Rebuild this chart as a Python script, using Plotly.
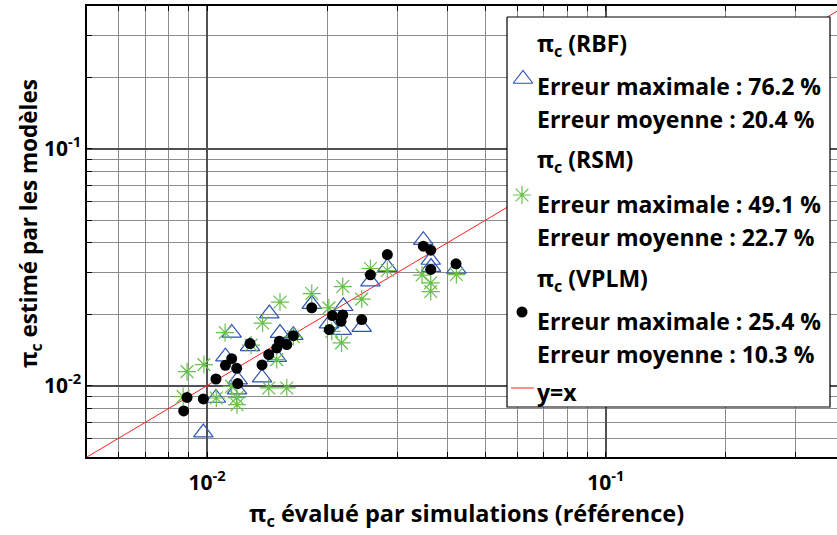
import plotly.graph_objects as go
import numpy as np

# ---------------- data ----------------
# VPLM model (black dots)
sim_vplm = [0.03487, 0.03640, 0.02833, 0.04212, 0.03640, 0.02569, 0.01831, 0.02062, 0.02190,
            0.02168, 0.02443, 0.02026, 0.01646, 0.01518, 0.01585, 0.01496, 0.01282, 0.01428,
            0.01153, 0.01112, 0.01187, 0.01374, 0.01053, 0.01194, 0.00891, 0.00979, 0.00874]
est_vplm = [0.03878, 0.03729, 0.03576, 0.03267, 0.03092, 0.02935, 0.02130, 0.01975, 0.01989,
            0.01870, 0.01900, 0.01724, 0.01626, 0.01539, 0.01490, 0.01443, 0.01505, 0.01352,
            0.01300, 0.01218, 0.01183, 0.01223, 0.01067, 0.01020, 0.00892, 0.00879, 0.00782]

# RBF model (blue open triangles)
sim_rbf = [0.03487, 0.03640, 0.03646, 0.04220, 0.02833, 0.02569, 0.01831, 0.02197, 0.02023,
           0.02177, 0.02443, 0.01646, 0.01524, 0.01433, 0.01282, 0.01496, 0.01153, 0.01112,
           0.01194, 0.01189, 0.01374, 0.01053, 0.00979]
est_rbf = [0.04111, 0.03390, 0.03166, 0.03107, 0.03161, 0.02750, 0.02210, 0.02163, 0.01828,
           0.01716, 0.01767, 0.01634, 0.01667, 0.02014, 0.01466, 0.01319, 0.01670, 0.01326,
           0.01060, 0.00962, 0.01081, 0.00887, 0.00634]

# RSM model (green asterisks)
sim_rsm = [0.02569, 0.02833, 0.03462, 0.03640, 0.03640, 0.04220, 0.02190, 0.02443, 0.01831,
           0.02021, 0.01524, 0.01378, 0.01110, 0.01290, 0.01496, 0.02055, 0.02174, 0.01153,
           0.01187, 0.01189, 0.01055, 0.00982, 0.00891, 0.00871, 0.01428, 0.01585, 0.01646]
est_rsm = [0.03122, 0.03061, 0.02929, 0.02716, 0.02495, 0.02944, 0.02620, 0.02319, 0.02447,
           0.02130, 0.02253, 0.01837, 0.01675, 0.01483, 0.01288, 0.01696, 0.01515, 0.00993,
           0.00890, 0.00831, 0.00887, 0.01227, 0.01146, 0.00899, 0.00978, 0.00978, 0.01611]

identity_range = [0.005, 0.5]

model_names = ["RBF", "RSM", "VPLM"]
err_max = ["76.2", "49.1", "25.4"]
err_moy = ["20.4", "22.7", "10.3"]

x_major = [0.01, 0.1]
x_minor = [0.006, 0.007, 0.008, 0.009, 0.02, 0.03, 0.04, 0.05, 0.06, 0.07, 0.08, 0.09, 0.2, 0.3, 0.4]
y_major = [0.01, 0.1]
y_minor = [0.006, 0.007, 0.008, 0.009, 0.02, 0.03, 0.04, 0.05, 0.06, 0.07, 0.08, 0.09, 0.2, 0.3]
tick_text = ["10<sup>-2</sup>", "10<sup>-1</sup>"]

x_title = "π<sub>c</sub> évalué par simulations (référence)"
y_title = "π<sub>c</sub> estimé par les modèles"

# ---------------- styling ----------------
FONT = "'Open Sans', Lato, sans-serif"
BLUE = "#2f55b4"
GREEN = "#66c04a"
W, H = 837, 535
ML, MR, MT, MB = 87, 0, 6, 78
PW, PH = W - ML - MR, H - MT - MB


def px(x):
    return (x - ML) / PW


def py(y):
    return (H - MB - y) / PH


fig = go.Figure()

fig.add_trace(go.Scatter(x=identity_range, y=identity_range, mode="lines",
                         line=dict(color="#ff2020", width=1), hoverinfo="skip", showlegend=False))
fig.add_trace(go.Scatter(x=sim_rbf, y=est_rbf, mode="markers", showlegend=False,
                         marker=dict(symbol="triangle-up-open", size=17, color=BLUE,
                                     line=dict(color=BLUE, width=1.2))))
fig.add_trace(go.Scatter(x=sim_rsm, y=est_rsm, mode="markers", showlegend=False,
                         marker=dict(symbol="asterisk-open", size=15, color=GREEN,
                                     line=dict(color=GREEN, width=1.2))))
fig.add_trace(go.Scatter(x=sim_vplm, y=est_vplm, mode="markers", showlegend=False,
                         marker=dict(symbol="circle", size=11, color="black")))

# ---------------- custom legend on a pixel-like overlay axis ----------------
lx0, lx1, ly0, ly1 = 507, 830, 17, 407
fig.add_trace(go.Scatter(x=[lx0, lx1, lx1, lx0, lx0], y=[ly0, ly0, ly1, ly1, ly0],
                         xaxis="x2", yaxis="y2", mode="lines", fill="toself",
                         fillcolor="white", line=dict(color="black", width=1.2),
                         hoverinfo="skip", showlegend=False))
fig.add_trace(go.Scatter(x=[523], y=[79], xaxis="x2", yaxis="y2", mode="markers",
                         marker=dict(symbol="triangle-up-open", size=17, color=BLUE,
                                     line=dict(color=BLUE, width=1.2)),
                         hoverinfo="skip", showlegend=False))
fig.add_trace(go.Scatter(x=[522], y=[195], xaxis="x2", yaxis="y2", mode="markers",
                         marker=dict(symbol="asterisk-open", size=15, color=GREEN,
                                     line=dict(color=GREEN, width=1.2)),
                         hoverinfo="skip", showlegend=False))
fig.add_trace(go.Scatter(x=[522], y=[312], xaxis="x2", yaxis="y2", mode="markers",
                         marker=dict(symbol="circle", size=11, color="black"),
                         hoverinfo="skip", showlegend=False))
fig.add_trace(go.Scatter(x=[511, 534], y=[388, 388], xaxis="x2", yaxis="y2", mode="lines",
                         line=dict(color="#ff2020", width=1), hoverinfo="skip", showlegend=False))

annotations = []
LFS = 23
tx = 535
rows_y = [(42, 85, 118), (157, 203, 236), (276, 320, 353)]


def legend_text(y, text):
    return dict(x=px(tx), y=py(y), xref="paper", yref="paper", xanchor="left", yanchor="middle",
                text="<b>%s</b>" % text, showarrow=False,
                font=dict(family=FONT, size=LFS, color="black"))


for name, emax, emoy, (yh, y1, y2) in zip(model_names, err_max, err_moy, rows_y):
    annotations.append(legend_text(yh + 3, "π<sub>c</sub> (%s)" % name))
    annotations.append(legend_text(y1 + 1, "Erreur maximale : %s %%" % emax))
    annotations.append(legend_text(y2 + 1, "Erreur moyenne : %s %%" % emoy))
annotations.append(legend_text(392, "y=x"))

# axis titles
annotations.append(dict(x=px(466), y=py(514), xref="paper", yref="paper",
                        xanchor="center", yanchor="middle",
                        text="<b>%s</b>" % x_title, showarrow=False,
                        font=dict(family=FONT, size=23.5, color="black")))
annotations.append(dict(x=px(30), y=py(224), xref="paper", yref="paper",
                        xanchor="center", yanchor="middle",
                        text="<b>%s</b>" % y_title, showarrow=False, textangle=-90,
                        font=dict(family=FONT, size=22.5, color="black")))

axis_common = dict(type="log", showline=True, linecolor="black", linewidth=1.5,
                   ticks="inside", ticklen=5, tickcolor="black", tickwidth=1,
                   showgrid=True, gridcolor="#505050", gridwidth=1.5, zeroline=False,
                   tickfont=dict(family=FONT, size=21, color="black"))

fig.update_layout(
    width=W, height=H,
    margin=dict(l=ML, r=MR, t=MT, b=MB),
    plot_bgcolor="white", paper_bgcolor="white",
    showlegend=False,
    xaxis=dict(range=[np.log10(0.005), -0.42], tickvals=x_major,
               ticktext=["<b>%s</b>" % t for t in tick_text], mirror="ticks",
               ticklabelstandoff=6,
               minor=dict(tickvals=x_minor, ticks="inside", ticklen=5, tickcolor="black",
                          showgrid=True, gridcolor="#8c8c8c", gridwidth=1),
               **axis_common),
    yaxis=dict(range=[np.log10(0.005), np.log10(0.4)], tickvals=y_major,
               ticktext=["<b>%s</b>" % t for t in tick_text], mirror=False,
               minor=dict(tickvals=y_minor, ticks="inside", ticklen=5, tickcolor="black",
                          showgrid=True, gridcolor="#8c8c8c", gridwidth=1),
               **axis_common),
    xaxis2=dict(overlaying="x", anchor="y2", range=[ML, W - MR], visible=False, fixedrange=True),
    yaxis2=dict(overlaying="y", anchor="x2", range=[H - MB, MT], visible=False, fixedrange=True),
    annotations=annotations,
)

fig.write_html("out.html", config={"displayModeBar": False},
               post_script="document.body.style.margin='0px';")
